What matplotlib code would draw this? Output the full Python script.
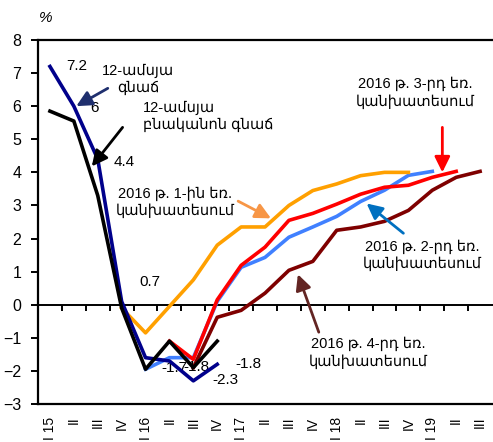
import numpy as np
import matplotlib.pyplot as plt

plt.rcParams['font.family'] = ['Liberation Sans', 'DejaVu Sans']

nan = np.nan

# Եռամսյակներ
quarters = ['I 15', 'II', 'III', 'IV', 'I 16', 'II', 'III', 'IV', 'I 17', 'II', 'III', 'IV',
            'I 18', 'II', 'III', 'IV', 'I 19', 'II', 'III']

# Փաստացի
inflation = [7.2, 6.0, 4.4, 0.1, -1.6, -1.7, -2.3, -1.8]
core_inflation = [5.85, 5.55, 3.3, -0.1, -1.95, -1.1, -1.9, -1.1]

# Կանխատեսումներ
forecast_q1 = [nan, nan, nan, -0.1, -0.85, -0.05, 0.75, 1.8, 2.35, 2.35, 3.0, 3.45, 3.65, 3.9, 4.0, 4.0]
forecast_q2 = [nan, nan, nan, nan, -1.95, -1.6, -1.6, 0.1, 1.13, 1.43, 2.04, 2.35, 2.67, 3.12, 3.46, 3.91, 4.03]
forecast_q3 = [nan, nan, nan, nan, nan, -1.1, -1.65, 0.15, 1.19, 1.74, 2.55, 2.76, 3.04, 3.34, 3.55, 3.61, 3.85, 4.03]
forecast_q4 = [nan, nan, nan, nan, nan, nan, -1.9, -0.38, -0.17, 0.35, 1.04, 1.31, 2.25, 2.35, 2.52, 2.85, 3.46, 3.85, 4.03]

fig = plt.figure(figsize=(4.93, 4.42), dpi=100)
ax = fig.add_axes([38 / 493, 1 - 404 / 442, 1 - 38 / 493, 364 / 442])

lw = 2.6
ax.plot(range(len(forecast_q2)), forecast_q2, color='#4080FF', linewidth=lw, zorder=3)
ax.plot(range(len(forecast_q1)), forecast_q1, color='#FFA000', linewidth=lw, zorder=3)
ax.plot(range(len(forecast_q3)), forecast_q3, color='#FF0000', linewidth=lw, zorder=4)
ax.plot(range(len(forecast_q4)), forecast_q4, color='#7F0000', linewidth=lw, zorder=4)
ax.plot(range(len(inflation)), inflation, color='#00008B', linewidth=lw, zorder=5)
ax.plot(range(len(core_inflation)), core_inflation, color='black', linewidth=lw, zorder=6)

# Զրոյական գիծ և նշիչներ
ax.axhline(0, color='black', linewidth=1.4, zorder=2)
ax.vlines(np.arange(0.5, 18, 1), -0.18, 0, color='black', linewidth=1.4, zorder=2)

ax.set_xlim(-0.5, 18.54)
ax.set_ylim(-3, 8)
ax.set_yticks(range(-3, 9))
ax.set_xticks(range(len(quarters)))
ax.set_xticklabels(quarters, rotation=90, fontsize=10)
ax.tick_params(axis='x', length=0, pad=9)
ax.tick_params(axis='y', length=5, width=1.4, labelsize=11.5, pad=7)

ax.spines['right'].set_visible(False)
for s in ['left', 'top', 'bottom']:
    ax.spines[s].set_linewidth(1.6)

fig.text(46 / 493, 1 - 18 / 442, '%', fontsize=11, ha='center', va='center', style='italic')

# Թվային պիտակներ
fs = 11
ax.text(1.12, 7.2, '7.2', fontsize=fs, ha='center', va='center')
ax.text(1.88, 5.95, '6', fontsize=fs, ha='center', va='center')
ax.text(3.12, 4.3, '4.4', fontsize=fs, ha='center', va='center')
ax.text(4.17, 0.68, '0.7', fontsize=fs, ha='center', va='center')
ax.text(5.2, -1.9, '-1.7', fontsize=fs, ha='center', va='center', zorder=1)
ax.text(6.15, -1.87, '-1.8', fontsize=fs, ha='center', va='center', zorder=1)
ax.text(7.33, -2.28, '-2.3', fontsize=fs, ha='center', va='center')
ax.text(8.3, -1.8, '-1.8', fontsize=fs, ha='center', va='center')

# Անոտացիաներ
def note(xy, xytext, color):
    ax.annotate('', xy=xy, xytext=xytext,
                arrowprops=dict(arrowstyle='-|>,head_length=0.85,head_width=0.42',
                                color=color, linewidth=2, mutation_scale=11,
                                shrinkA=0, shrinkB=0), zorder=7)

ts = 10.5
ax.text(3.7, 6.8, '12-ամսյա\nգնաճ', fontsize=ts, ha='center', va='center', linespacing=1.25)
note((1.1, 6.0), (2.42, 6.54), '#1F2F6E')

ax.text(3.88, 5.7, '12-ամսյա\nբնականոն գնաճ', fontsize=ts, ha='left', va='center', linespacing=1.25)
note((1.75, 4.18), (3.04, 5.36), 'black')

ax.text(5.25, 3.1, '2016 թ. 1-ին եռ.\nկանխատեսում', fontsize=ts, ha='center', va='center', linespacing=1.25)
note((9.25, 2.61), (7.875, 3.13), '#F79646')

ax.text(15.6, 1.5, '2016 թ. 2-րդ եռ.\nկանխատեսում', fontsize=ts, ha='center', va='center', linespacing=1.25)
note((13.25, 3.06), (14.79, 2.16), '#0070C0')

ax.text(15.3, 6.4, '2016 թ. 3-րդ եռ.\nկանխատեսում', fontsize=ts, ha='center', va='center', linespacing=1.25)
note((16.42, 4.0), (16.42, 5.36), '#FF0000')

ax.text(13.3, -1.45, '2016 թ. 4-րդ եռ.\nկանխատեսում', fontsize=ts, ha='center', va='center', linespacing=1.25)
note((10.375, 0.92), (11.25, -0.83), '#632523')

fig.savefig('out.png', dpi=100)
